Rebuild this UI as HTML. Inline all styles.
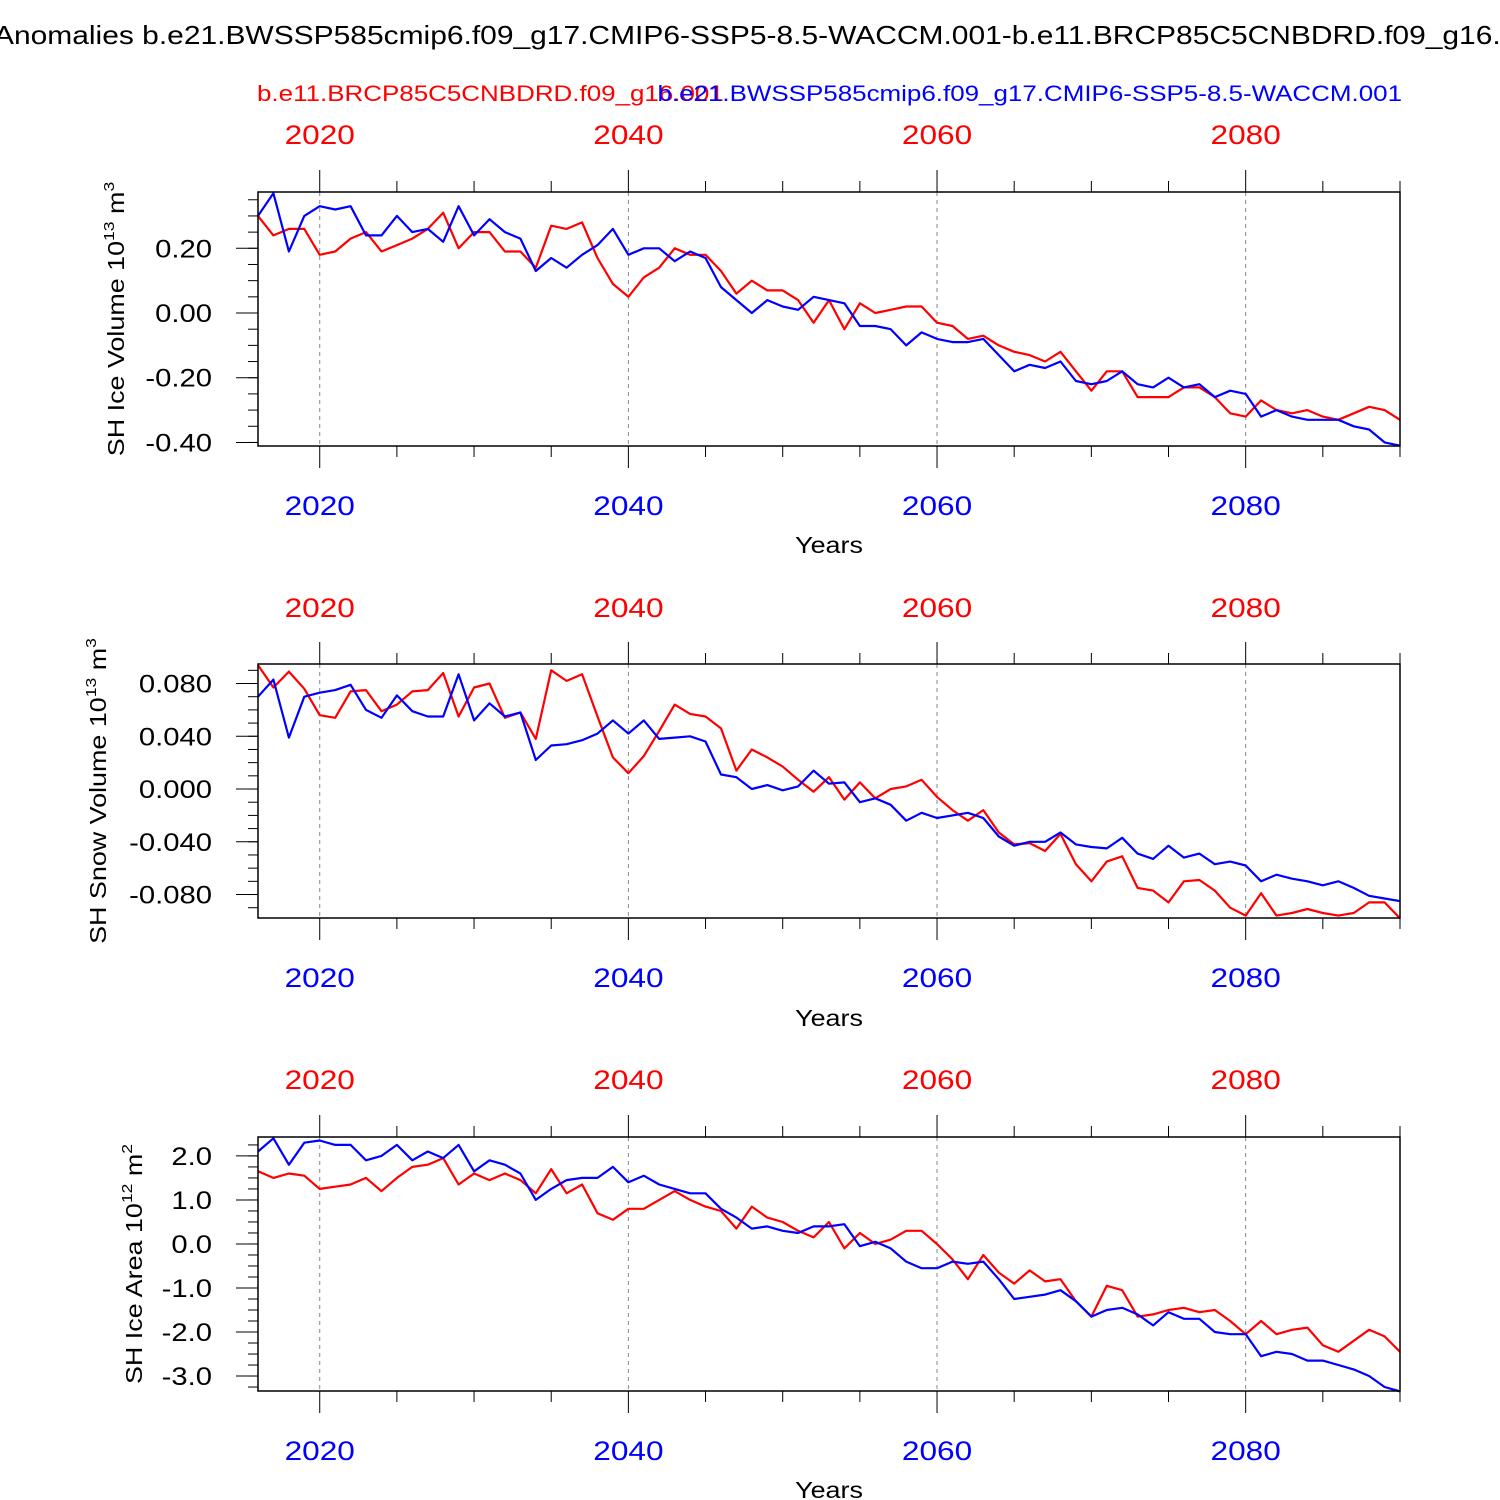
<!DOCTYPE html>
<html><head><meta charset="utf-8"><style>
html,body{margin:0;padding:0;background:#fff;}
svg{display:block;font-family:"Liberation Sans",Arial,sans-serif;}
</style></head><body>
<svg id="chart" width="1500" height="1500" viewBox="0 0 1500 1500" xmlns="http://www.w3.org/2000/svg">
<text transform="translate(-6,44) scale(1.175,1)" font-size="25.5" fill="#000">Anomalies b.e21.BWSSP585cmip6.f09_g17.CMIP6-SSP5-8.5-WACCM.001-b.e11.BRCP85C5CNBDRD.f09_g16.001</text>
<text transform="translate(257,101) scale(1.18,1)" font-size="22" fill="#ff0000">b.e11.BRCP85C5CNBDRD.f09_g16.001</text>
<text transform="translate(1402,101) scale(1.18,1)" font-size="22" fill="#0000ff" text-anchor="end">b.e21.BWSSP585cmip6.f09_g17.CMIP6-SSP5-8.5-WACCM.001</text>
<g id="panels"></g>
</svg>
<script>
const years = [];
for (let y = 2016; y <= 2090; y++) years.push(y);
const xTickYears = [2020, 2040, 2060, 2080];

const iceVolBlue = [0.30,0.37,0.19,0.30,0.33,0.32,0.33,0.24,0.24,0.30,0.25,0.26,0.22,0.33,0.24,0.29,0.25,0.23,0.13,0.17,0.14,0.18,0.21,0.26,0.18,0.20,0.20,0.16,0.19,0.17,0.08,0.04,0.00,0.04,0.02,0.01,0.05,0.04,0.03,-0.04,-0.04,-0.05,-0.10,-0.06,-0.08,-0.09,-0.09,-0.08,-0.13,-0.18,-0.16,-0.17,-0.15,-0.21,-0.22,-0.21,-0.18,-0.22,-0.23,-0.20,-0.23,-0.22,-0.26,-0.24,-0.25,-0.32,-0.30,-0.32,-0.33,-0.33,-0.33,-0.35,-0.36,-0.40,-0.41];
const iceVolRed = [0.30,0.24,0.26,0.26,0.18,0.19,0.23,0.25,0.19,0.21,0.23,0.26,0.31,0.20,0.25,0.25,0.19,0.19,0.14,0.27,0.26,0.28,0.17,0.09,0.05,0.11,0.14,0.20,0.18,0.18,0.13,0.06,0.10,0.07,0.07,0.04,-0.03,0.04,-0.05,0.03,0.00,0.01,0.02,0.02,-0.03,-0.04,-0.08,-0.07,-0.10,-0.12,-0.13,-0.15,-0.12,-0.18,-0.24,-0.18,-0.18,-0.26,-0.26,-0.26,-0.23,-0.23,-0.26,-0.31,-0.32,-0.27,-0.30,-0.31,-0.30,-0.32,-0.33,-0.31,-0.29,-0.30,-0.33];
const snowBlue = [0.070,0.083,0.039,0.070,0.073,0.075,0.079,0.060,0.054,0.071,0.059,0.055,0.055,0.087,0.052,0.065,0.055,0.058,0.022,0.033,0.034,0.037,0.042,0.052,0.042,0.052,0.038,0.039,0.040,0.036,0.011,0.009,0.000,0.003,-0.001,0.002,0.014,0.004,0.005,-0.010,-0.007,-0.012,-0.024,-0.018,-0.022,-0.020,-0.018,-0.022,-0.036,-0.043,-0.040,-0.040,-0.033,-0.042,-0.044,-0.045,-0.037,-0.049,-0.053,-0.043,-0.052,-0.049,-0.057,-0.055,-0.058,-0.070,-0.065,-0.068,-0.070,-0.073,-0.070,-0.075,-0.081,-0.083,-0.085];
const snowRed = [0.094,0.077,0.089,0.076,0.056,0.054,0.074,0.075,0.059,0.064,0.074,0.075,0.088,0.055,0.077,0.080,0.054,0.058,0.038,0.090,0.082,0.087,0.055,0.024,0.012,0.025,0.044,0.064,0.057,0.055,0.046,0.014,0.030,0.024,0.017,0.007,-0.002,0.009,-0.008,0.005,-0.007,0.000,0.002,0.007,-0.006,-0.016,-0.024,-0.016,-0.033,-0.042,-0.041,-0.047,-0.034,-0.057,-0.070,-0.055,-0.051,-0.075,-0.077,-0.086,-0.070,-0.069,-0.077,-0.090,-0.096,-0.079,-0.096,-0.094,-0.091,-0.094,-0.096,-0.094,-0.086,-0.086,-0.098];
const areaBlue = [2.1,2.4,1.8,2.3,2.35,2.25,2.25,1.9,2.0,2.25,1.9,2.1,1.95,2.25,1.65,1.9,1.8,1.6,1.0,1.25,1.45,1.5,1.5,1.75,1.4,1.55,1.35,1.25,1.15,1.15,0.8,0.6,0.35,0.4,0.3,0.25,0.4,0.4,0.45,-0.05,0.05,-0.1,-0.4,-0.55,-0.55,-0.4,-0.45,-0.4,-0.8,-1.25,-1.2,-1.15,-1.05,-1.3,-1.65,-1.5,-1.45,-1.6,-1.85,-1.55,-1.7,-1.7,-2.0,-2.05,-2.05,-2.55,-2.45,-2.5,-2.65,-2.65,-2.75,-2.85,-3.0,-3.25,-3.35];
const areaRed = [1.65,1.5,1.6,1.55,1.25,1.3,1.35,1.5,1.2,1.5,1.75,1.8,1.95,1.35,1.6,1.45,1.6,1.45,1.15,1.7,1.15,1.35,0.7,0.55,0.8,0.8,1.0,1.2,1.0,0.85,0.75,0.35,0.85,0.6,0.5,0.3,0.15,0.5,-0.1,0.25,0.0,0.1,0.3,0.3,0.0,-0.35,-0.8,-0.25,-0.65,-0.9,-0.6,-0.85,-0.8,-1.3,-1.65,-0.95,-1.05,-1.65,-1.6,-1.5,-1.45,-1.55,-1.5,-1.75,-2.05,-1.75,-2.05,-1.95,-1.9,-2.3,-2.45,-2.2,-1.95,-2.1,-2.45];

const volTicks = [0.2, 0.0, -0.2, -0.4];
const volLabels = ["0.20","0.00","-0.20","-0.40"];
const snowTicks = [0.08, 0.04, 0.0, -0.04, -0.08];
const snowLabels = ["0.080","0.040","0.000","-0.040","-0.080"];
const areaTicks = [2, 1, 0, -1, -2, -3];
const areaLabels = ["2.0","1.0","0.0","-1.0","-2.0","-3.0"];

const NS = "http://www.w3.org/2000/svg";
const X0 = 258, X1 = 1400, YR0 = 2016, YR1 = 2090;
const SX = 1.17;
function xs(yr){ return X0 + (yr - YR0) * (X1 - X0) / (YR1 - YR0); }
function mk(tag, attrs, parent){
  const e = document.createElementNS(NS, tag);
  for (const k in attrs) e.setAttribute(k, attrs[k]);
  parent.appendChild(e); return e;
}
const root = document.getElementById("panels");

const panels = [
  {name:"ice-volume", top:192, bot:446, vmin:-0.411, vmax:0.374, ticks:volTicks, labels:volLabels, minor:0.05,
   blue:iceVolBlue, red:iceVolRed, ylab:["SH Ice Volume 10","13"," m","3"], ylx:124, topLab:144, botLab:515, years:553},
  {name:"snow-volume", top:664, bot:918, vmin:-0.0978, vmax:0.0948, ticks:snowTicks, labels:snowLabels, minor:0.01,
   blue:snowBlue, red:snowRed, ylab:["SH Snow Volume 10","13"," m","3"], ylx:106, topLab:617, botLab:987, years:1026},
  {name:"ice-area", top:1137, bot:1391, vmin:-3.34, vmax:2.43, ticks:areaTicks, labels:areaLabels, minor:0.25,
   blue:areaBlue, red:areaRed, ylab:["SH Ice Area 10","12"," m","2"], ylx:142, topLab:1089, botLab:1460, years:1498}
];

panels.forEach((p) => {
  const g = mk("g", {}, root);
  
  
  const ys = v => p.bot - (v - p.vmin) * (p.bot - p.top) / (p.vmax - p.vmin);

  xTickYears.forEach(yr => {
    const l = mk("line", {x1:xs(yr), x2:xs(yr), y1:p.top, y2:p.bot, stroke:"#888", "stroke-width":1, "stroke-dasharray":"4,4"}, g);
    
    
  });
  for (let yr = 2020; yr <= 2090; yr += 5) {
    const major = (yr % 20 === 0);
    const len = major ? 22 : 11;
    const x = xs(yr);
    mk("line", {x1:x, x2:x, y1:p.top - len, y2:p.top, stroke:"#000", "stroke-width":1}, g);
    mk("line", {x1:x, x2:x, y1:p.bot, y2:p.bot + len, stroke:"#000", "stroke-width":1}, g);
  }
  const n0 = Math.ceil(p.vmin / p.minor - 1e-6), n1 = Math.floor(p.vmax / p.minor + 1e-6);
  for (let k = n0; k <= n1; k++) {
    const y = ys(k * p.minor);
    mk("line", {x1:X0 - 10, x2:X0, y1:y, y2:y, stroke:"#000", "stroke-width":1}, g);
  }
  p.ticks.forEach((v, i) => {
    const y = ys(v);
    mk("line", {x1:X0 - 22, x2:X0, y1:y, y2:y, stroke:"#000", "stroke-width":1}, g);
    const t = mk("text", {transform:`translate(212,${y + 9}) scale(${SX},1)`, "font-size":25, "text-anchor":"end", fill:"#000"}, g);
    t.textContent = p.labels[i];
    
    
  });
  xTickYears.forEach(yr => {
    const t1 = mk("text", {transform:`translate(${xs(yr)},${p.topLab}) scale(${SX},1)`, "font-size":27, "text-anchor":"middle", fill:"#ff0000"}, g);
    t1.textContent = yr;
    
    
    const t2 = mk("text", {transform:`translate(${xs(yr)},${p.botLab}) scale(${SX},1)`, "font-size":27, "text-anchor":"middle", fill:"#0000ff"}, g);
    t2.textContent = yr;
    
    
  });
  const yt = mk("text", {transform:`translate(829,${p.years}) scale(${SX},1)`, "font-size":23, "text-anchor":"middle", fill:"#000"}, g);
  yt.textContent = "Years";
  
  

  const cy = (p.top + p.bot) / 2;
  const at = mk("text", {x:0, y:0, "font-size":23, "text-anchor":"middle", fill:"#000", transform:`translate(${p.ylx},${cy}) rotate(-90) scale(${SX},1)`}, g);
  
  
  const s1 = mk("tspan", {}, at); s1.textContent = p.ylab[0];
  const s2 = mk("tspan", {dy:-10, "font-size":15}, at); s2.textContent = p.ylab[1];
  const s3 = mk("tspan", {dy:10}, at); s3.textContent = p.ylab[2];
  const s4 = mk("tspan", {dy:-10, "font-size":15}, at); s4.textContent = p.ylab[3];

  [["red", p.red, "#ff0000"], ["blue", p.blue, "#0000ff"]].forEach(([nm, arr, col]) => {
    const pts = arr.map((v, i) => xs(years[i]).toFixed(1) + "," + ys(v).toFixed(1)).join(" ");
    const pl = mk("polyline", {points:pts, fill:"none", stroke:col, "stroke-width":2.2, "stroke-linejoin":"round"}, g);
    
    
  });

  const box = mk("rect", {x:X0, y:p.top, width:X1 - X0, height:p.bot - p.top, fill:"none", stroke:"#000", "stroke-width":1.5}, g);
  
  
});
</script>
</body></html>
